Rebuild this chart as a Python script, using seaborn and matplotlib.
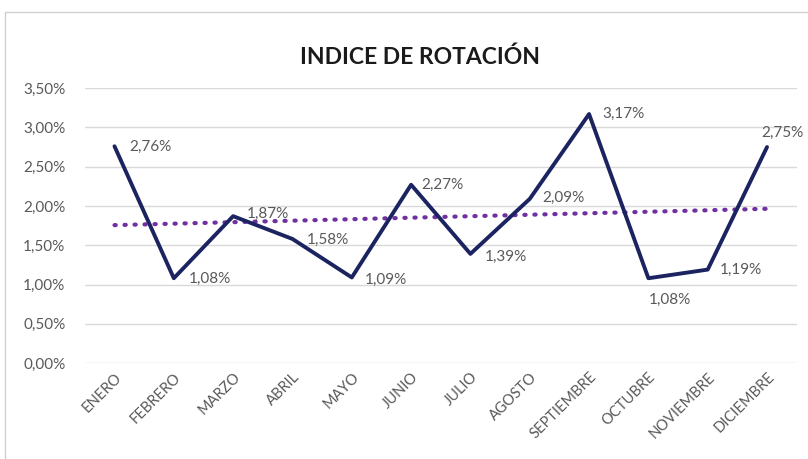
import numpy as np
import pandas as pd
import matplotlib
matplotlib.use("Agg")
import matplotlib.pyplot as plt
import seaborn as sns
from matplotlib.patches import Rectangle

meses = ['ENERO', 'FEBRERO', 'MARZO', 'ABRIL', 'MAYO', 'JUNIO', 'JULIO',
         'AGOSTO', 'SEPTIEMBRE', 'OCTUBRE', 'NOVIEMBRE', 'DICIEMBRE']
indice = [2.76, 1.08, 1.87, 1.58, 1.09, 2.27, 1.39, 2.09, 3.17, 1.08, 1.19, 2.75]
y_ticks = [0.0, 0.5, 1.0, 1.5, 2.0, 2.5, 3.0, 3.5]

# label offsets (pixels) relative to each point
offsets = [(15, -1), (15, -1), (14, 2), (14, -1), (13, -2), (10, 0),
           (14, -3), (13, 1), (13, 0), (0, -22), (12, 0), (-6, 14)]

sns.set_theme(style="white")
plt.rcParams['font.family'] = ['Lato', 'DejaVu Sans']

df = pd.DataFrame({'mes': meses, 'idx': np.arange(len(meses)), 'indice': indice})
slope, intercept = np.polyfit(df['idx'], df['indice'], 1)
df['tendencia'] = intercept + slope * df['idx']

fig = plt.figure(figsize=(8.08, 4.59), dpi=100)
ax = fig.add_axes([0.105, 0.209, 0.881, 0.599])

gray = '#595959'
for t in y_ticks:
    ax.axhline(t, color='#d9d9d9', lw=1.0, zorder=0)

sns.lineplot(data=df, x='idx', y='tendencia', ax=ax, color='#7030a0',
             lw=3.0, linestyle=(0, (0.3, 2.1)), dash_capstyle='round', zorder=2)
sns.lineplot(data=df, x='idx', y='indice', ax=ax, color='#1b2460',
             lw=2.8, zorder=3)

for i, v in enumerate(indice):
    dx, dy = offsets[i]
    ax.annotate(f'{v:.2f}%'.replace('.', ','), (i, v), xytext=(dx, dy),
                textcoords='offset pixels', ha='left', va='center',
                fontsize=11, color=gray, zorder=4)

ax.set_xlim(-0.5, len(meses) - 0.5)
ax.set_ylim(0, 3.5)
ax.set_yticks(y_ticks)
ax.set_yticklabels([f'{t:.2f}%'.replace('.', ',') for t in y_ticks],
                   color=gray, fontsize=11)
ax.set_xticks(df['idx'])
ax.set_xticklabels(meses, rotation=45, ha='right', rotation_mode='anchor',
                   color=gray, fontsize=10.5)
ax.tick_params(axis='y', length=0, pad=14)
ax.tick_params(axis='x', length=0, pad=5)
ax.set_xlabel('')
ax.set_ylabel('')
sns.despine(ax=ax, left=True, bottom=True)

fig.text(0.52, 0.876, 'INDICE DE ROTACIÓN', ha='center', va='center',
         fontsize=16.5, fontweight='bold', color='#1a1a1a')

fig.patches.append(Rectangle((5 / 808, -0.05), 1.1, 1 - 12 / 459 + 0.05,
                             transform=fig.transFigure, fill=False,
                             edgecolor='#d0d0d0', lw=1.0))

fig.savefig('out.png', dpi=100)
